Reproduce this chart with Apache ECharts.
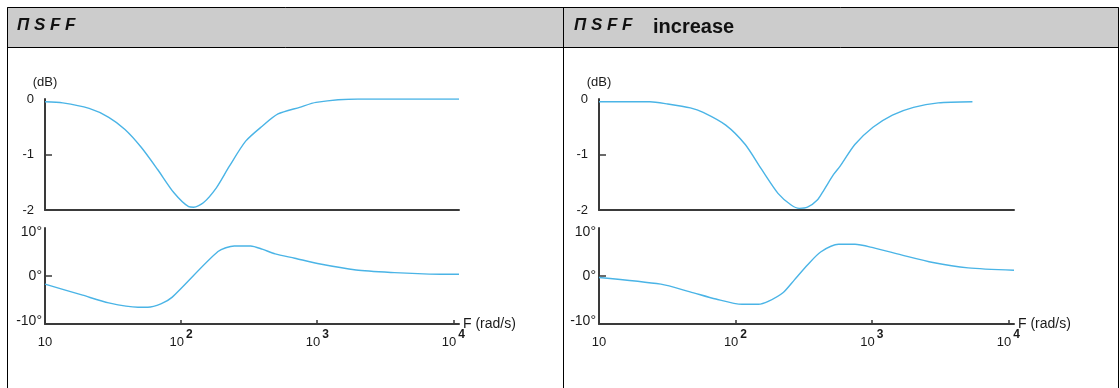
<!DOCTYPE html>
<html><head><meta charset="utf-8">
<script src="https://cdn.jsdelivr.net/npm/echarts@6/dist/echarts.min.js"></script>
<style>html,body{margin:0;padding:0;background:#fff}#c{width:1120px;height:388px}</style>
</head><body><div id="c"></div>
<script>
// ---- text ----
const headerCode = 'Π S F F';
const headerRightSuffix = 'increase';
const gainAxisName = '(dB)';
const freqAxisName = 'F (rad/s)';

// ---- ticks ----
const freqTicks = [10, 100, 1000, 10000];
const gainTicks = [-1];
const phaseTicks = [0];

// ---- data: left panel (nSFF) ----
const leftGainF  = [10, 13.5, 21.1, 29.4, 38.7, 50.9, 67.2, 88.6, 113.6, 123.6, 145.6, 181.5, 225, 298, 394, 515, 742, 980, 1988, 11000];
const leftGainDb = [-0.05, -0.07, -0.17, -0.33, -0.55, -0.87, -1.27, -1.69, -1.94, -1.95, -1.87, -1.6, -1.22, -0.76, -0.49, -0.27, -0.15, -0.06, 0, 0];
const leftPhaseF   = [10, 18.9, 29.4, 48.2, 56.9, 71, 86.1, 186.6, 246, 324, 394, 491, 684, 1005, 1929, 3690, 6650, 11000];
const leftPhaseDeg = [-1.7, -4.0, -5.6, -6.5, -6.5, -5.8, -4.4, 5.1, 6.25, 6.25, 5.6, 4.6, 3.7, 2.6, 1.25, 0.7, 0.4, 0.35];

// ---- data: right panel (nSFF increase) ----
const rightGainF  = [10, 23.6, 31.9, 46.7, 58.0, 84.9, 118, 155.6, 205, 256, 294, 337, 398, 445, 524, 585, 750, 1018, 1413, 2018, 3064, 5455];
const rightGainDb = [-0.05, -0.05, -0.09, -0.16, -0.24, -0.47, -0.82, -1.27, -1.7, -1.91, -1.97, -1.95, -1.82, -1.64, -1.36, -1.21, -0.82, -0.51, -0.29, -0.15, -0.07, -0.05];
const rightPhaseF   = [10, 28.4, 46.5, 71.9, 111.7, 147.2, 173.8, 222.8, 270.4, 337, 421, 570, 752, 1018, 1641, 2801, 5073, 11000];
const rightPhaseDeg = [-0.3, -1.7, -3.3, -4.8, -5.9, -5.9, -5.3, -3.5, -0.8, 2.3, 5.0, 6.6, 6.6, 5.9, 4.4, 2.8, 1.7, 1.2];

const FONT = '"Liberation Sans", Arial, sans-serif';
const CURVE = '#4ab4e6';
const AXIS = '#3a3a3a';
const TXT = '#1a1a1a';
const FMIN = 10, FMAX = 11000;

function pairs(f, v) { return f.map((x, i) => [x, v[i]]); }
function freqLabel(v) {
  const e = Math.round(Math.log10(v));
  if (Math.abs(Math.log10(v) - e) > 1e-6) return '';
  if (e === 1) return '{b|10}';
  return '{b|10}{s|' + e + '}';
}
function phaseLabel(v) {
  if (v > 0) return '{hi|' + v + '°}';
  if (v < 0) return '{lo|' + v + '°}';
  return '{mid|' + v + '°}';
}

const panels = [
  { left: 45, width: 414 },
  { left: 599, width: 415 }
];
const grids = [], xAxes = [], yAxes = [], series = [];
const gainData = [pairs(leftGainF, leftGainDb), pairs(rightGainF, rightGainDb)];
const phaseData = [pairs(leftPhaseF, leftPhaseDeg), pairs(rightPhaseF, rightPhaseDeg)];
const phaseTxt = { fontFamily: FONT, fontSize: 14, color: TXT };

panels.forEach((p, k) => {
  grids.push({ left: p.left, top: 99, width: p.width, height: 111, containLabel: false, outerBoundsMode: 'none' });
  grids.push({ left: p.left, top: 228, width: p.width, height: 96, containLabel: false, outerBoundsMode: 'none' });
  const gi = grids.length - 2, pi = grids.length - 1;
  xAxes.push({
    type: 'log', logBase: 10, gridIndex: gi, min: FMIN, max: FMAX, position: 'bottom',
    axisLine: { show: true, onZero: false, lineStyle: { color: AXIS, width: 2 } },
    axisTick: { show: false }, axisLabel: { show: false }, splitLine: { show: false }
  });
  xAxes.push({
    type: 'log', logBase: 10, gridIndex: pi, min: FMIN, max: FMAX, position: 'bottom',
    name: freqAxisName, nameLocation: 'end', nameGap: 4, nameMoveOverlap: false,
    nameTextStyle: { fontFamily: FONT, fontSize: 14, color: TXT, align: 'left', verticalAlign: 'middle' },
    axisLine: { show: true, onZero: false, lineStyle: { color: AXIS, width: 2 } },
    axisTick: { show: true, inside: true, length: 4, customValues: freqTicks, lineStyle: { color: AXIS, width: 1.5 } },
    axisLabel: {
      customValues: freqTicks, margin: 11, formatter: freqLabel,
      rich: {
        b: { fontFamily: FONT, fontSize: 13, color: TXT, lineHeight: 14, verticalAlign: 'bottom' },
        s: { fontFamily: FONT, fontSize: 12, fontWeight: 'bold', color: TXT, lineHeight: 12, padding: [0, 0, 8, 2], verticalAlign: 'bottom' }
      }
    },
    splitLine: { show: false }
  });
  yAxes.push({
    type: 'value', gridIndex: gi, min: -2, max: 0, interval: 1, position: 'left',
    name: gainAxisName, nameLocation: 'end', nameGap: 17, nameMoveOverlap: false,
    nameTextStyle: { fontFamily: FONT, fontSize: 13, color: TXT, align: 'center', verticalAlign: 'middle' },
    axisLine: { show: true, onZero: false, lineStyle: { color: AXIS, width: 2 } },
    axisTick: { show: true, inside: true, length: 7, customValues: gainTicks, lineStyle: { color: AXIS, width: 1.5 } },
    axisLabel: { fontFamily: FONT, fontSize: 13, color: TXT, margin: 11 },
    splitLine: { show: false }
  });
  yAxes.push({
    type: 'value', gridIndex: pi, min: -10, max: 10, interval: 10, position: 'left',
    axisLine: { show: true, onZero: false, lineStyle: { color: AXIS, width: 2 } },
    axisTick: { show: true, inside: true, length: 7, customValues: phaseTicks, lineStyle: { color: AXIS, width: 1.5 } },
    axisLabel: {
      margin: 3, formatter: phaseLabel,
      rich: {
        hi: Object.assign({ padding: [8, 0, 0, 0] }, phaseTxt),
        mid: Object.assign({}, phaseTxt),
        lo: Object.assign({ padding: [0, 0, 6, 0] }, phaseTxt)
      }
    },
    splitLine: { show: false }
  });
  series.push({
    type: 'line', xAxisIndex: gi, yAxisIndex: gi, data: gainData[k], showSymbol: false,
    smooth: 0.25, lineStyle: { color: CURVE, width: 1.4 }, silent: true, animation: false
  });
  series.push({
    type: 'line', xAxisIndex: pi, yAxisIndex: pi, data: phaseData[k], showSymbol: false,
    smooth: 0.25, lineStyle: { color: CURVE, width: 1.4 }, silent: true, animation: false
  });
});

const graphic = [
  { type: 'rect', shape: { x: 7.5, y: 7.5, width: 1111, height: 40 }, style: { fill: '#cccccc', stroke: '#000', lineWidth: 1 }, z: -1 },
  { type: 'line', shape: { x1: 7.5, y1: 7.5, x2: 7.5, y2: 388 }, style: { stroke: '#000', lineWidth: 1 } },
  { type: 'line', shape: { x1: 563.5, y1: 7.5, x2: 563.5, y2: 388 }, style: { stroke: '#000', lineWidth: 1 } },
  { type: 'line', shape: { x1: 1118.5, y1: 7.5, x2: 1118.5, y2: 388 }, style: { stroke: '#000', lineWidth: 1 } },
  { type: 'text', left: 17, top: 17, style: { text: headerCode, font: 'italic bold 17px ' + FONT, fill: '#111' } },
  { type: 'text', left: 574, top: 17, style: { text: headerCode, font: 'italic bold 17px ' + FONT, fill: '#111' } },
  { type: 'text', left: 653, top: 17, style: { text: headerRightSuffix, font: 'bold 20px ' + FONT, fill: '#111' } }
];

const chart = echarts.init(document.getElementById('c'), null, { renderer: 'canvas' });
chart.setOption({
  animation: false,
  backgroundColor: '#ffffff',
  grid: grids, xAxis: xAxes, yAxis: yAxes, series: series, graphic: graphic
});
</script>
</body></html>
